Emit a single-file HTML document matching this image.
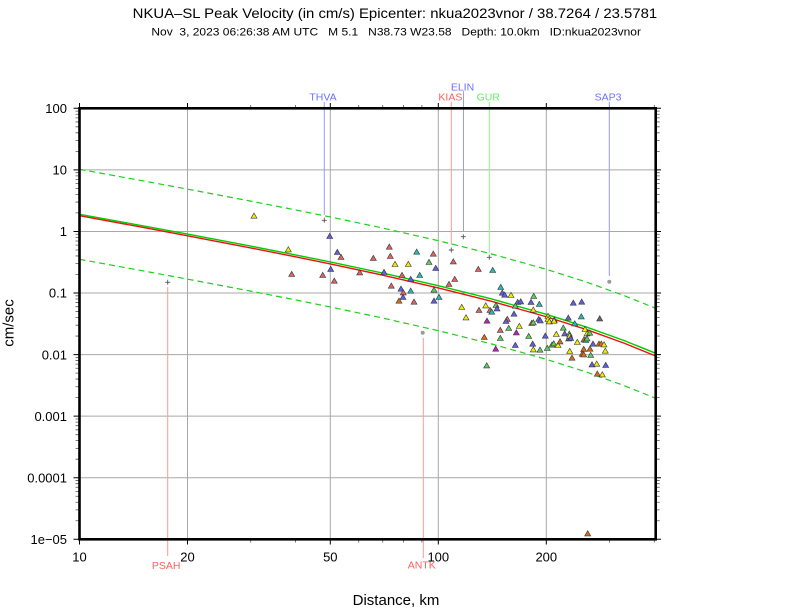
<!DOCTYPE html>
<html><head><meta charset="utf-8"><style>
html,body{margin:0;padding:0;background:#fff;}
svg{display:block;font-family:"Liberation Sans",Arial,sans-serif;}
</style></head><body>
<svg width="792" height="612" viewBox="0 0 792 612" xmlns="http://www.w3.org/2000/svg">
<defs>
<clipPath id="pc"><rect x="79.5" y="108.3" width="576.2" height="431"/></clipPath>
<path id="mL" d="M75.5,-18.53H79.5M75.5,-29.38H79.5M75.5,-37.07H79.5M75.5,-43.04H79.5M75.5,-47.91H79.5M75.5,-52.03H79.5M75.5,-55.6H79.5M75.5,-58.75H79.5" stroke="#555" stroke-width="0.8" fill="none"/>
<path id="mR" d="M655.7,-18.53H659.7M655.7,-29.38H659.7M655.7,-37.07H659.7M655.7,-43.04H659.7M655.7,-47.91H659.7M655.7,-52.03H659.7M655.7,-55.6H659.7M655.7,-58.75H659.7" stroke="#555" stroke-width="0.8" fill="none"/>
<path id="t" d="M0,-3L3,2.2L-3,2.2Z" stroke="#333" stroke-width="0.6"/>
</defs>

<!-- titles -->
<text x="132.7" y="18" font-size="14" textLength="524.5" lengthAdjust="spacingAndGlyphs" fill="#000">NKUA–SL Peak Velocity (in cm/s) Epicenter: nkua2023vnor / 38.7264 / 23.5781</text>
<text x="151.4" y="35.3" font-size="11" textLength="489.6" lengthAdjust="spacingAndGlyphs" fill="#000" style="white-space:pre">Nov  3, 2023 06:26:38 AM UTC   M 5.1   N38.73 W23.58   Depth: 10.0km   ID:nkua2023vnor</text>

<!-- grid -->
<g stroke="#a8a8a8" stroke-width="1" fill="none">
<path d="M187.5,108.3V539.3M330.3,108.3V539.3M438.3,108.3V539.3M546.3,108.3V539.3"/>
<path d="M79.5,169.87H655.7M79.5,231.44H655.7M79.5,293.01H655.7M79.5,354.58H655.7M79.5,416.15H655.7M79.5,477.72H655.7"/>
</g>

<!-- ticks -->
<g>
<use href="#mL" y="169.87"/><use href="#mL" y="231.44"/><use href="#mL" y="293.01"/><use href="#mL" y="354.58"/><use href="#mL" y="416.15"/><use href="#mL" y="477.72"/><use href="#mL" y="539.29"/>
<use href="#mR" y="169.87"/><use href="#mR" y="231.44"/><use href="#mR" y="293.01"/><use href="#mR" y="354.58"/><use href="#mR" y="416.15"/><use href="#mR" y="477.72"/><use href="#mR" y="539.29"/>
</g>
<g stroke="#000" stroke-width="1" fill="none">
<path d="M73.5,108.3H79.5M73.5,169.87H79.5M73.5,231.44H79.5M73.5,293.01H79.5M73.5,354.58H79.5M73.5,416.15H79.5M73.5,477.72H79.5M73.5,539.29H79.5"/>
<path d="M655.7,108.3H661M655.7,169.87H661M655.7,231.44H661M655.7,293.01H661M655.7,354.58H661M655.7,416.15H661M655.7,477.72H661M655.7,539.29H661"/>
<path d="M79.5,108.3V103M187.5,108.3V103M330.3,108.3V103M438.3,108.3V103M546.3,108.3V103"/>
<path d="M79.5,539.3V544.5M187.5,539.3V544.5M330.3,539.3V544.5M438.3,539.3V544.5M546.3,539.3V544.5"/>
</g>
<g stroke="#555" stroke-width="0.8" fill="none">
<path d="M250.7,108.3V105M295.5,108.3V105M358.7,108.3V105M382.7,108.3V105M403.5,108.3V105M421.9,108.3V105M609.4,108.3V105M654.3,108.3V105"/>
<path d="M250.7,539.3V542.5M295.5,539.3V542.5M358.7,539.3V542.5M382.7,539.3V542.5M403.5,539.3V542.5M421.9,539.3V542.5M609.4,539.3V542.5M654.3,539.3V542.5"/>
</g>

<!-- station lines -->
<g stroke-width="1" fill="none">
<path d="M324.3,102V215" stroke="#9a9aff"/>
<path d="M463.5,91V232" stroke="#9a9aff"/>
<path d="M451.3,102V245" stroke="#ff9a9a"/>
<path d="M489.3,102V253" stroke="#8fef8f"/>
<path d="M609.3,102V276" stroke="#9a9aff"/>
<path d="M423.3,338V558" stroke="#ff9a9a"/>
<path d="M167.7,287V556" stroke="#ff9a9a"/>
</g>
<g stroke="#555" stroke-width="0.9" fill="none">
<path d="M321.8,220.3h5M324.3,217.8v5"/>
<path d="M460.8,236.7h5M463.3,234.2v5"/>
<path d="M448.8,250h5M451.3,247.5v5"/>
<path d="M486.8,257.3h5M489.3,254.8v5"/>
<path d="M165.2,282.3h5M167.7,279.8v5"/>
</g>
<circle cx="609.3" cy="281.7" r="2" fill="#999"/>
<circle cx="422.7" cy="332.7" r="2" fill="#999"/>

<!-- station labels -->
<g font-size="10.5" text-anchor="middle">
<text x="323" y="100.7" fill="#6f6fff">THVA</text>
<text x="462.5" y="90.7" fill="#6f6fff">ELIN</text>
<text x="450.4" y="100.7" fill="#ff5f5f">KIAS</text>
<text x="488.3" y="100.7" fill="#5fef5f">GUR</text>
<text x="608" y="100.7" fill="#6f6fff">SAP3</text>
<text x="166.2" y="569" fill="#ff5f5f">PSAH</text>
<text x="421.7" y="568.7" fill="#ff5f5f">ANTK</text>
</g>

<!-- curves -->
<g clip-path="url(#pc)" fill="none">
<polyline stroke="#22cc22" stroke-width="1.2" stroke-dasharray="6,4" points="79.5,169.3 142.7,180.81 187.5,189.12 250.66,201.11 295.5,209.91 330.3,216.95 382.7,228.06 438.3,240.68 490.7,253.73 546.3,269.3 587.2,282.3 624.3,295.62 655.7,308.29"/>
<polyline stroke="#22cc22" stroke-width="1.2" stroke-dasharray="6,4" points="79.5,259.3 142.7,270.81 187.5,279.12 250.66,291.11 295.5,299.91 330.3,306.95 382.7,318.06 438.3,330.68 490.7,343.73 546.3,359.3 587.2,372.3 624.3,385.62 655.7,398.29"/>
<polyline stroke="#ee1111" stroke-width="1.4" points="79.5,215.7 142.7,227.35 187.5,235.76 250.66,247.9 295.5,256.8 330.3,263.92 382.7,275.14 438.3,287.89 490.7,301.06 546.3,316.75 587.2,329.85 624.3,343.25 655.7,355.99"/>
<polyline stroke="#00cc00" stroke-width="1.4" points="79.5,214.3 142.7,225.81 187.5,234.12 250.66,246.11 295.5,254.91 330.3,261.95 382.7,273.06 438.3,285.68 490.7,298.73 546.3,314.3 587.2,327.3 624.3,340.62 655.7,353.29"/>
</g>

<!-- data points -->
<g>
<use href="#t" x="254" y="216" fill="#eeee00"/>
<use href="#t" x="288.3" y="249.7" fill="#eeee00"/>
<use href="#t" x="291.7" y="274.3" fill="#e06363"/>
<use href="#t" x="329.7" y="236.3" fill="#5f5fe0"/>
<use href="#t" x="337.3" y="252.3" fill="#5f5fe0"/>
<use href="#t" x="341" y="257.3" fill="#e06363"/>
<use href="#t" x="322.7" y="275.3" fill="#e06363"/>
<use href="#t" x="330.7" y="269.3" fill="#5f5fe0"/>
<use href="#t" x="334.3" y="281" fill="#e06363"/>
<use href="#t" x="359.7" y="272.7" fill="#e06363"/>
<use href="#t" x="373.3" y="258.3" fill="#e06363"/>
<use href="#t" x="389.3" y="247" fill="#e06363"/>
<use href="#t" x="390.3" y="256.3" fill="#e06363"/>
<use href="#t" x="395" y="264.3" fill="#eeee00"/>
<use href="#t" x="408.3" y="264.3" fill="#eeee00"/>
<use href="#t" x="416.7" y="252" fill="#22bbbb"/>
<use href="#t" x="433.3" y="254" fill="#e06363"/>
<use href="#t" x="429" y="262.3" fill="#5fcc5f"/>
<use href="#t" x="435.7" y="268.3" fill="#5f5fe0"/>
<use href="#t" x="453.3" y="261.7" fill="#e06363"/>
<use href="#t" x="384" y="272.3" fill="#5f5fe0"/>
<use href="#t" x="402" y="275.3" fill="#e06363"/>
<use href="#t" x="410.7" y="279.3" fill="#5f5fe0"/>
<use href="#t" x="419.7" y="275.3" fill="#22bbbb"/>
<use href="#t" x="454.7" y="279.3" fill="#e06363"/>
<use href="#t" x="449" y="284.3" fill="#e06363"/>
<use href="#t" x="391.3" y="286" fill="#e06363"/>
<use href="#t" x="401" y="289" fill="#5f5fe0"/>
<use href="#t" x="403.3" y="292.7" fill="#e06363"/>
<use href="#t" x="410.7" y="291" fill="#22bbbb"/>
<use href="#t" x="434" y="290" fill="#5fcc5f"/>
<use href="#t" x="439" y="297.3" fill="#22bbbb"/>
<use href="#t" x="403" y="297.3" fill="#5f5fe0"/>
<use href="#t" x="399" y="301" fill="#e06b10"/>
<use href="#t" x="414" y="302" fill="#e06363"/>
<use href="#t" x="434" y="301" fill="#5f5fe0"/>

<use href="#t" x="478.3" y="269.3" fill="#e06363"/>
<use href="#t" x="492.7" y="270.3" fill="#22bbbb"/>
<use href="#t" x="500.7" y="287.3" fill="#22bbbb"/>
<use href="#t" x="502.3" y="293" fill="#5f5fe0"/>
<use href="#t" x="504.7" y="295" fill="#5f5fe0"/>
<use href="#t" x="511" y="295.3" fill="#eeee00"/>
<use href="#t" x="533.7" y="296.3" fill="#5fcc5f"/>
<use href="#t" x="517.7" y="302.3" fill="#5f5fe0"/>
<use href="#t" x="520.7" y="301.7" fill="#5f5fe0"/>
<use href="#t" x="531" y="302.3" fill="#5f5fe0"/>
<use href="#t" x="539.3" y="304.3" fill="#22bbbb"/>
<use href="#t" x="573.3" y="303" fill="#5f5fe0"/>
<use href="#t" x="581.7" y="302" fill="#5f5fe0"/>
<use href="#t" x="496" y="305.3" fill="#5fcc5f"/>
<use href="#t" x="497" y="308.7" fill="#5f5fe0"/>
<use href="#t" x="485.7" y="305.7" fill="#eeee00"/>
<use href="#t" x="479" y="310.3" fill="#e06363"/>
<use href="#t" x="490" y="310.3" fill="#e06363"/>
<use href="#t" x="491.7" y="312" fill="#22bbbb"/>
<use href="#t" x="514" y="314" fill="#5f5fe0"/>
<use href="#t" x="515.3" y="306" fill="#5fcc5f"/>
<use href="#t" x="533.3" y="310" fill="#eeee00"/>
<use href="#t" x="461.7" y="307.3" fill="#eeee00"/>
<use href="#t" x="466" y="317.7" fill="#eeee00"/>
<use href="#t" x="487" y="321" fill="#bb22bb"/>
<use href="#t" x="507.3" y="319.3" fill="#e06363"/>
<use href="#t" x="506" y="321.3" fill="#5f5fe0"/>
<use href="#t" x="519.3" y="326.3" fill="#eeee00"/>
<use href="#t" x="508.7" y="328.3" fill="#5fcc5f"/>
<use href="#t" x="500.3" y="330.3" fill="#e06363"/>
<use href="#t" x="516.3" y="332.7" fill="#bb22bb"/>
<use href="#t" x="500.3" y="338.3" fill="#5fcc5f"/>
<use href="#t" x="484.3" y="337.3" fill="#e06b10"/>
<use href="#t" x="495.7" y="349" fill="#bb22bb"/>
<use href="#t" x="515.3" y="345.3" fill="#5f5fe0"/>
<use href="#t" x="528.7" y="336.3" fill="#5fcc5f"/>
<use href="#t" x="545.3" y="336" fill="#5f5fe0"/>
<use href="#t" x="532.7" y="344" fill="#5f5fe0"/>
<use href="#t" x="533.3" y="349.7" fill="#eeee00"/>
<use href="#t" x="540" y="350" fill="#5fcc5f"/>
<use href="#t" x="547.3" y="348.3" fill="#5fcc5f"/>
<use href="#t" x="552" y="345" fill="#5fcc5f"/>
<use href="#t" x="553.7" y="343.7" fill="#5fcc5f"/>
<use href="#t" x="558" y="345.3" fill="#eeee00"/>
<use href="#t" x="560" y="341.7" fill="#e06b10"/>
<use href="#t" x="556.3" y="334.3" fill="#eeee00"/>
<use href="#t" x="564.7" y="333.7" fill="#5f5fe0"/>
<use href="#t" x="563.3" y="328" fill="#5fcc5f"/>
<use href="#t" x="568.7" y="338.7" fill="#5f5fe0"/>
<use href="#t" x="569.3" y="334" fill="#5fcc5f"/>
<use href="#t" x="569.7" y="336" fill="#eeee00"/>
<use href="#t" x="570.7" y="338.3" fill="#5f5fe0"/>
<use href="#t" x="577.3" y="342.3" fill="#eeee00"/>
<use href="#t" x="568.3" y="318" fill="#5f5fe0"/>
<use href="#t" x="581.3" y="316.7" fill="#22bbbb"/>
<use href="#t" x="574.7" y="323.7" fill="#22bbbb"/>
<use href="#t" x="599.7" y="318.7" fill="#666666"/>
<use href="#t" x="548" y="316.3" fill="#eeee00"/>
<use href="#t" x="548" y="319.3" fill="#eeee00"/>
<use href="#t" x="549.3" y="321.7" fill="#eeee00"/>
<use href="#t" x="554.3" y="320" fill="#5f5fe0"/>
<use href="#t" x="554" y="321" fill="#eeee00"/>
<use href="#t" x="538.7" y="319.3" fill="#5f5fe0"/>
<use href="#t" x="540.3" y="320.7" fill="#5f5fe0"/>
<use href="#t" x="531.7" y="323.3" fill="#e06b10"/>
<use href="#t" x="533.3" y="322.7" fill="#5fcc5f"/>
<use href="#t" x="585" y="329.3" fill="#eeee00"/>
<use href="#t" x="587" y="333.7" fill="#eeee00"/>
<use href="#t" x="589.7" y="333" fill="#5fcc5f"/>
<use href="#t" x="584" y="339.7" fill="#e06b10"/>
<use href="#t" x="585.7" y="340.3" fill="#22bbbb"/>
<use href="#t" x="587" y="338.7" fill="#5fcc5f"/>
<use href="#t" x="593" y="344" fill="#5f5fe0"/>
<use href="#t" x="599" y="344" fill="#e06b10"/>
<use href="#t" x="601.3" y="344" fill="#e06b10"/>
<use href="#t" x="604" y="344.7" fill="#eeee00"/>
<use href="#t" x="583.7" y="349.3" fill="#e06b10"/>
<use href="#t" x="590" y="349" fill="#e06b10"/>
<use href="#t" x="569.7" y="351.3" fill="#eeee00"/>
<use href="#t" x="605.3" y="351" fill="#eeee00"/>
<use href="#t" x="582.3" y="354" fill="#e06b10"/>
<use href="#t" x="583.7" y="354.7" fill="#e06b10"/>
<use href="#t" x="590.7" y="355.3" fill="#5fcc5f"/>
<use href="#t" x="572" y="358" fill="#e06b10"/>
<use href="#t" x="592" y="364.7" fill="#5f5fe0"/>
<use href="#t" x="596.7" y="364" fill="#eeee00"/>
<use href="#t" x="605.7" y="365.3" fill="#5f5fe0"/>
<use href="#t" x="597.3" y="374" fill="#e06b10"/>
<use href="#t" x="602.3" y="374.7" fill="#eeee00"/>
<use href="#t" x="486.7" y="365.7" fill="#5fcc5f"/>
<use href="#t" x="587.7" y="533.7" fill="#e06b10"/>
</g>

<!-- frame -->
<rect x="79.5" y="108.3" width="576.2" height="431" fill="none" stroke="#000" stroke-width="2.6"/>

<!-- y labels -->
<g font-size="13" text-anchor="end" fill="#000">
<text x="67" y="113">100</text>
<text x="67" y="174.5">10</text>
<text x="67" y="236.1">1</text>
<text x="67" y="297.7">0.1</text>
<text x="67" y="359.3">0.01</text>
<text x="67" y="420.8">0.001</text>
<text x="67" y="482.4">0.0001</text>
<text x="67" y="544">1e−05</text>
</g>
<!-- x labels -->
<g font-size="13" text-anchor="middle" fill="#000">
<text x="79.5" y="561.5">10</text>
<text x="187.5" y="561.5">20</text>
<text x="330.3" y="561.5">50</text>
<text x="438.3" y="561.5">100</text>
<text x="546.3" y="561.5">200</text>
</g>
<text x="396" y="605" font-size="15" text-anchor="middle" fill="#000">Distance, km</text>
<text transform="translate(13.3,323) rotate(-90)" font-size="15" text-anchor="middle" fill="#000">cm/sec</text>
</svg>
</body></html>
